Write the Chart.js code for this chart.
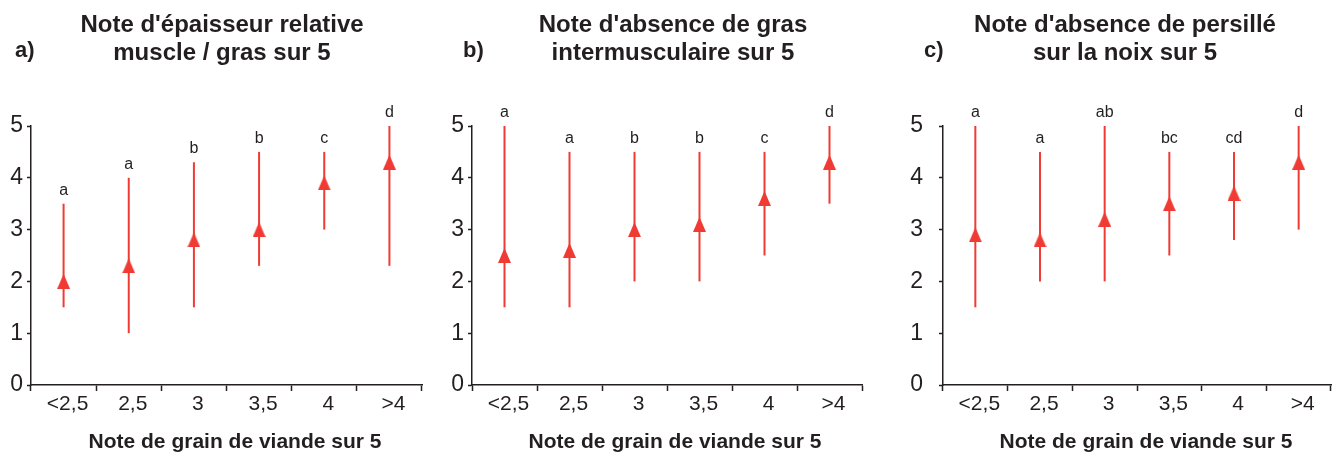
<!DOCTYPE html>
<html>
<head>
<meta charset="utf-8">
<script src="https://cdn.jsdelivr.net/npm/chart.js@4/dist/chart.umd.min.js"></script>
<style>
  body { margin: 0; background: #fff; }
  #wrap { position: relative; width: 1339px; height: 453px; overflow: hidden; background: #fff; }
  canvas { position: absolute; top: 0; }
</style>
</head>
<body>
<div id="wrap">
  <canvas id="chartA" width="440" height="453" style="left:0px"></canvas>
  <canvas id="chartB" width="445" height="453" style="left:440px"></canvas>
  <canvas id="chartC" width="454" height="453" style="left:885px"></canvas>
</div>
<script>
// Données
const categories = ["<2,5", "2,5", "3", "3,5", "4", ">4"];
const yTicks = [0, 1, 2, 3, 4, 5];

// a) épaisseur relative muscle / gras
const moyA = [2.0, 2.3, 2.8, 3.0, 3.9, 4.3];
const minA = [1.5, 1.0, 1.5, 2.3, 3.0, 2.3];
const maxA = [3.5, 4.0, 4.3, 4.5, 4.5, 5.0];
const lettresA = ["a", "a", "b", "b", "c", "d"];

// b) absence de gras intermusculaire
const moyB = [2.5, 2.6, 3.0, 3.1, 3.6, 4.3];
const minB = [1.5, 1.5, 2.0, 2.0, 2.5, 3.5];
const maxB = [5.0, 4.5, 4.5, 4.5, 4.5, 5.0];
const lettresB = ["a", "a", "b", "b", "c", "d"];

// c) absence de persillé sur la noix
const moyC = [2.9, 2.8, 3.2, 3.5, 3.7, 4.3];
const minC = [1.5, 2.0, 2.0, 2.5, 2.8, 3.0];
const maxC = [5.0, 4.5, 5.0, 4.5, 4.5, 5.0];
const lettresC = ["a", "a", "ab", "bc", "cd", "d"];

const titreX = "Note de grain de viande sur 5";

const ROUGE = "#ef3b33";
const NOIR = "#231f20";
const NARROW = "'Liberation Sans Narrow', 'Liberation Sans', Arial, sans-serif";
const SANS = "'Liberation Sans', Arial, sans-serif";

// triangle utilisé comme marqueur
const tri = document.createElement("canvas");
tri.width = 13; tri.height = 15;
(function () {
    const c = tri.getContext("2d");
    c.fillStyle = ROUGE;
    c.beginPath();
    c.moveTo(6.5, 0);
    c.lineTo(13, 15);
    c.lineTo(0, 15);
    c.closePath();
    c.fill();
})();

// barres d'erreur, lettres et titres
const annotations = {
    id: "annotations",
    beforeDatasetsDraw(chart, args, opts) {
        const ctx = chart.ctx;
        const x = chart.scales.x, y = chart.scales.y;
        ctx.save();
        ctx.strokeStyle = ROUGE;
        ctx.lineWidth = 2;
        opts.mins.forEach((v, i) => {
            const px = x.getPixelForValue(i);
            ctx.beginPath();
            ctx.moveTo(px, y.getPixelForValue(v));
            ctx.lineTo(px, y.getPixelForValue(opts.maxs[i]));
            ctx.stroke();
        });
        ctx.restore();
    },
    afterDraw(chart, args, opts) {
        const ctx = chart.ctx;
        const x = chart.scales.x, y = chart.scales.y;
        ctx.save();
        ctx.fillStyle = NOIR;
        ctx.textAlign = "center";
        ctx.textBaseline = "alphabetic";
        ctx.font = "16px " + NARROW;
        opts.lettres.forEach((l, i) => {
            ctx.fillText(l, x.getPixelForValue(i), y.getPixelForValue(opts.maxs[i]) - 9);
        });
        ctx.textBaseline = "middle";
        ctx.font = "bold 24px " + SANS;
        ctx.fillText(opts.titre[0], opts.titreX, 25);
        ctx.fillText(opts.titre[1], opts.titreX, 53);
        ctx.font = "bold 21px " + SANS;
        ctx.fillText(titreX, opts.axeX, 442);
        ctx.textAlign = "left";
        ctx.font = "bold 22px " + SANS;
        ctx.fillText(opts.lettre, opts.lettreX, 51);
        ctx.restore();
    }
};

function graphique(id, moy, mins, maxs, lettres, titre, lettre, cadre) {
    return new Chart(document.getElementById(id), {
        type: "line",
        data: {
            labels: categories,
            datasets: [{
                data: moy,
                showLine: false,
                pointStyle: tri,
                pointRadius: 7,
                pointHoverRadius: 7
            }]
        },
        plugins: [annotations],
        options: {
            responsive: false,
            devicePixelRatio: 1,
            animation: false,
            layout: { padding: { top: 126, right: cadre.droite, bottom: 1, left: 0 } },
            plugins: {
                legend: { display: false },
                tooltip: { enabled: false },
                annotations: {
                    mins: mins, maxs: maxs, lettres: lettres, titre: titre,
                    lettre: lettre, titreX: cadre.titreX, axeX: cadre.axeX, lettreX: cadre.lettreX
                }
            },
            scales: {
                x: {
                    type: "category",
                    offset: true,
                    grid: { offset: true, drawOnChartArea: false, tickLength: 6, tickColor: NOIR, tickWidth: 1.5 },
                    border: { color: NOIR, width: 1.5 },
                    ticks: { color: NOIR, font: { family: NARROW, size: 21 }, padding: 1, labelOffset: 4, maxRotation: 0 },
                    afterFit(s) { s.height = 67; }
                },
                y: {
                    min: 0,
                    max: 5,
                    afterBuildTicks(s) { s.ticks = yTicks.map(v => ({ value: v })); },
                    grid: { drawOnChartArea: false, tickLength: 4, tickColor: NOIR, tickWidth: 1.5 },
                    border: { color: NOIR, width: 1.5 },
                    ticks: { color: NOIR, font: { family: NARROW, size: 23 }, padding: cadre.pad },
                    afterFit(s) { s.width = cadre.largeurY; }
                }
            }
        }
    });
}

graphique("chartA", moyA, minA, maxA, lettresA,
    ["Note d'épaisseur relative", "muscle / gras sur 5"], "a)",
    { droite: 18, largeurY: 31, pad: 4, titreX: 222, axeX: 235, lettreX: 15 });

graphique("chartB", moyB, minB, maxB, lettresB,
    ["Note d'absence de gras", "intermusculaire sur 5"], "b)",
    { droite: 23, largeurY: 32, pad: 4, titreX: 233, axeX: 235, lettreX: 23 });

graphique("chartC", moyC, minC, maxC, lettresC,
    ["Note d'absence de persillé", "sur la noix sur 5"], "c)",
    { droite: 6, largeurY: 58, pad: 16, titreX: 240, axeX: 261, lettreX: 39 });
</script>
</body>
</html>
